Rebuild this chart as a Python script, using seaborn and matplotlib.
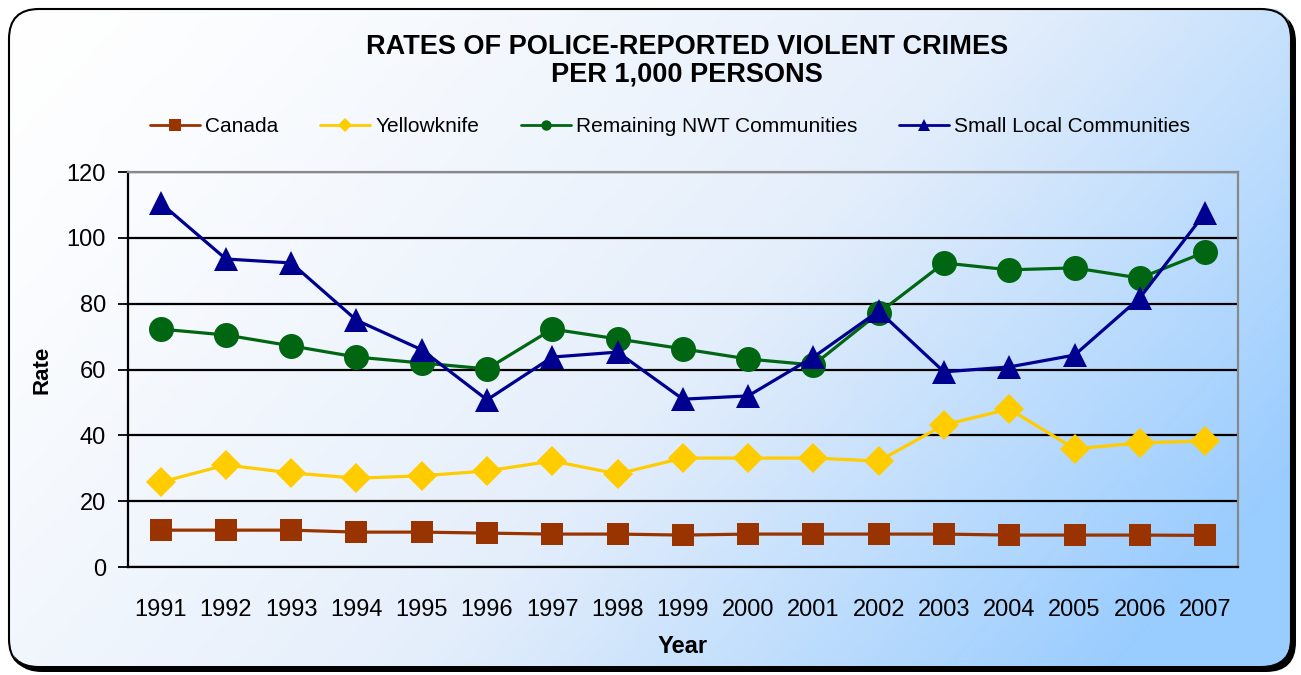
import pandas as pd
import matplotlib as mpl
import matplotlib.pyplot as plt
import numpy as np
import seaborn as sns
from matplotlib.patches import FancyBboxPatch
from matplotlib.colors import LinearSegmentedColormap

# data
years = list(range(1991, 2008))
canada = [11.2, 11.2, 11.2, 10.6, 10.6, 10.3, 10.0, 10.0, 9.7, 10.0, 10.0, 10.0, 10.0, 9.7, 9.7, 9.7, 9.6]
yellowknife = [25.8, 31.0, 28.6, 27.0, 27.7, 29.2, 32.2, 28.3, 33.1, 33.1, 33.1, 32.2, 43.2, 48.0, 35.9, 37.7, 38.3]
remaining_nwt = [72.3, 70.5, 67.2, 63.8, 62.0, 60.2, 72.3, 69.3, 66.3, 63.2, 61.4, 77.2, 92.4, 90.3, 90.9, 87.8, 95.7]
small_local = [110.6, 93.6, 92.4, 75.0, 66.0, 50.8, 63.8, 65.3, 51.0, 52.0, 63.8, 77.8, 59.3, 60.8, 64.4, 81.8, 107.6]

series_names = ["Canada", "Yellowknife", "Remaining NWT Communities", "Small Local Communities"]
series_vals = [canada, yellowknife, remaining_nwt, small_local]
colors = ["#993300", "#FFCC00", "#006611", "#000090"]
markers = ["s", "D", "o", "^"]
marker_sizes = [16, 15, 18, 17]
legend_marker_sizes = [8, 7, 7.5, 8]

df = pd.concat(
    [pd.DataFrame({"Year": years, "Rate": v, "Series": n}) for n, v in zip(series_names, series_vals)],
    ignore_index=True,
)

sns.set_style("white")
plt.rcParams["font.family"] = ["Liberation Sans", "DejaVu Sans"]
for key in ["text.color", "axes.labelcolor", "xtick.color", "ytick.color"]:
    plt.rcParams[key] = "black"

fig = plt.figure(figsize=(13.01, 6.75), dpi=100)

# gradient background inside a rounded frame
bg = fig.add_axes([0, 0, 1, 1], zorder=-10)
bg.set_xlim(0, 1301)
bg.set_ylim(675, 0)
bg.axis("off")
xx, yy = np.meshgrid(np.linspace(0, 1, 300), np.linspace(0, 1, 160))
grad = np.clip(0.75 * xx + 0.35 * yy, 0, 1) ** 1.3
cmap = LinearSegmentedColormap.from_list("bg", ["#FFFFFF", "#E4EEFB", "#99CCFF"])
shadow = FancyBboxPatch((12, 12), 1284, 660, boxstyle="round,pad=0,rounding_size=30",
                        facecolor="black", edgecolor="black", lw=0)
bg.add_patch(shadow)
frame = FancyBboxPatch((9, 9), 1282, 660, boxstyle="round,pad=0,rounding_size=30",
                       facecolor="none", edgecolor="black", lw=1.5)
im = bg.imshow(grad, cmap=cmap, extent=[9, 1291, 669, 9], aspect="auto", zorder=1)
im.set_clip_path(frame)
bg.add_patch(frame)
frame.set_zorder(2)

ax = fig.add_axes([0.0984, 0.16, 0.853, 0.585])
ax.set_facecolor("none")

sns.lineplot(
    data=df, x="Year", y="Rate", hue="Series", style="Series",
    hue_order=series_names, style_order=series_names,
    palette=colors, markers=markers, dashes=False, linewidth=2.3,
    markeredgewidth=0, ax=ax, legend=False, zorder=3,
)
for line, ms in zip(ax.lines, marker_sizes):
    line.set_markersize(ms)

ax.set_xlim(1990.5, 2007.5)
ax.set_ylim(0, 120)
ax.set_yticks(range(0, 121, 20))
ax.set_xticks(years)
ax.set_xticklabels([str(y) for y in years])
ax.set_xticks(np.arange(1990.5, 2008, 1), minor=True)
ax.tick_params(axis="x", which="major", length=0, pad=23, labelsize=17)
ax.tick_params(axis="x", which="minor", length=8, width=1.3, direction="out", color="black")
ax.tick_params(axis="y", length=7, width=1.3, direction="out", labelsize=17, pad=9, color="black", left=True)
ax.yaxis.grid(True, color="black", lw=1.6, zorder=0)
ax.set_axisbelow(True)
for s in ["left", "bottom"]:
    ax.spines[s].set_color("black")
    ax.spines[s].set_linewidth(1.6)
for s in ["top", "right"]:
    ax.spines[s].set_color("#888888")
    ax.spines[s].set_linewidth(1.6)

ax.set_xlabel("Year", fontsize=17, fontweight="bold", labelpad=10)
ax.set_ylabel("Rate", fontsize=16, fontweight="bold", labelpad=10)

fig.text(0.528, 0.91, "RATES OF POLICE-REPORTED VIOLENT CRIMES\nPER 1,000 PERSONS",
         ha="center", va="center", fontsize=19.5, fontweight="bold", linespacing=1.05)

handles = [
    mpl.lines.Line2D([], [], color=c, marker=m, markersize=s, lw=2, markeredgewidth=0)
    for c, m, s in zip(colors, markers, legend_marker_sizes)
]
fig.legend(handles, series_names, loc="center", bbox_to_anchor=(0.515, 0.812), ncol=4,
           frameon=False, fontsize=15, handlelength=2.4, handletextpad=0.25, columnspacing=2.0)

fig.savefig("out.png", dpi=100)
